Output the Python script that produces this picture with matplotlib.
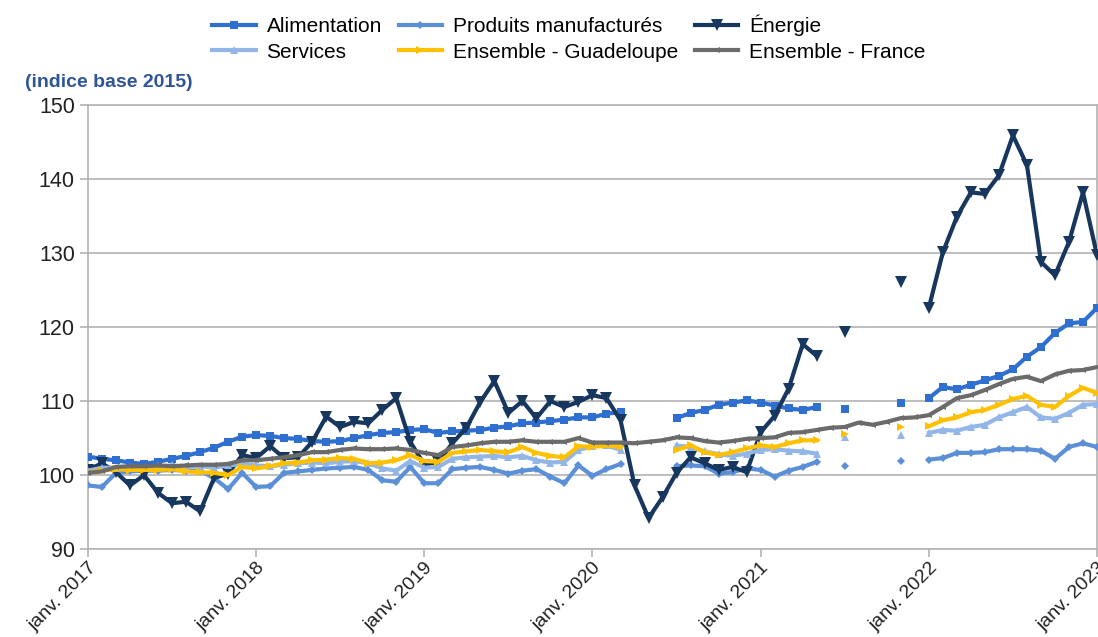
import numpy as np
import matplotlib.pyplot as plt

nan = np.nan

# monthly index values, janv. 2017 -> janv. 2023 (73 months)
alimentation = [102.5, 102.2, 102.0, 101.7, 101.5, 101.8, 102.2, 102.6, 103.1, 103.7, 104.5, 105.2,
                105.4, 105.3, 105.0, 104.9, 104.6, 104.5, 104.6, 105.0, 105.4, 105.7, 105.8, 106.1,
                106.2, 105.7, 105.9, 106.0, 106.1, 106.4, 106.6, 107.0, 107.1, 107.3, 107.5, 107.8,
                107.8, 108.3, 108.5, nan, nan, nan, 107.7, 108.4, 108.8, 109.5, 109.8, 110.1,
                109.8, 109.4, 109.0, 108.8, 109.2, nan, 108.9, nan, nan, nan, 109.7, nan,
                110.4, 111.9, 111.6, 112.2, 112.8, 113.4, 114.3, 116.0, 117.3, 119.2, 120.5, 120.7,
                122.6]
produits = [98.6, 98.4, 100.3, 100.5, 100.6, 100.6, 100.7, 100.6, 100.6, 99.6, 98.1, 100.3,
            98.4, 98.5, 100.3, 100.5, 100.7, 100.9, 101.0, 101.1, 100.7, 99.3, 99.1, 101.1,
            98.9, 98.9, 100.8, 101.0, 101.1, 100.7, 100.2, 100.6, 100.8, 99.8, 98.9, 101.3,
            99.9, 100.8, 101.5, nan, nan, nan, 101.2, 101.3, 101.2, 100.2, 100.4, 100.9,
            100.7, 99.8, 100.6, 101.1, 101.8, nan, 101.2, nan, nan, nan, 101.9, nan,
            102.1, 102.3, 103.0, 103.0, 103.1, 103.5, 103.5, 103.5, 103.3, 102.2, 103.8, 104.3,
            103.8]
energie = [100.7, 101.6, 100.4, 98.6, 100.0, 97.6, 96.2, 96.4, 95.1, 99.6, 100.2, 102.7,
           102.3, 103.9, 102.3, 102.4, 104.5, 107.9, 106.5, 107.2, 107.0, 108.8, 110.4, 104.5,
           101.4, 101.8, 104.3, 106.4, 109.9, 112.7, 108.4, 110.0, 107.7, 110.0, 109.2, 109.9,
           110.8, 110.4, 107.4, 98.6, 94.2, 97.0, 100.3, 102.4, 101.6, 100.7, 101.1, 100.4,
           105.8, 108.0, 111.7, 117.7, 116.1, nan, 119.3, nan, nan, nan, 126.1, nan,
           122.6, 130.1, 134.9, 138.2, 138.0, 140.5, 145.9, 141.9, 128.8, 127.0, 131.5, 138.2,
           129.7]
services = [100.6, 101.0, 101.0, 101.1, 101.0, 101.2, 101.3, 101.1, 101.2, 101.0, 101.3, 101.5,
            101.3, 101.2, 101.4, 101.6, 101.7, 101.6, 101.8, 101.9, 101.6, 100.9, 100.6, 101.9,
            101.0, 101.1, 102.2, 102.4, 102.5, 102.6, 102.4, 102.6, 102.0, 101.7, 101.8, 103.4,
            103.9, 104.0, 103.4, nan, nan, nan, 104.0, 103.8, 103.2, 102.8, 102.6, 102.9,
            103.4, 103.5, 103.3, 103.2, 102.9, nan, 105.1, nan, nan, nan, 105.4, nan,
            105.7, 106.1, 106.0, 106.5, 106.8, 107.8, 108.5, 109.2, 107.8, 107.6, 108.4, 109.5,
            109.6]
guadeloupe = [100.4, 100.6, 100.8, 100.7, 100.7, 100.7, 100.8, 100.5, 100.4, 100.3, 100.0, 101.1,
              100.9, 101.2, 101.6, 101.7, 102.0, 102.1, 102.3, 102.2, 101.6, 101.7, 102.0, 102.7,
              101.9, 101.8, 103.0, 103.2, 103.4, 103.2, 103.1, 103.8, 103.0, 102.6, 102.4, 103.9,
              103.8, 104.0, 103.8, nan, nan, nan, 103.4, 104.0, 103.1, 102.7, 103.1, 103.6,
              104.0, 103.8, 104.3, 104.7, 104.7, nan, 105.5, nan, nan, nan, 106.5, nan,
              106.6, 107.4, 107.8, 108.5, 108.8, 109.5, 110.3, 110.7, 109.5, 109.2, 110.7, 111.8,
              111.1]
france = [100.3, 100.5, 101.1, 101.2, 101.2, 101.3, 101.2, 101.3, 101.4, 101.4, 101.5, 102.0,
          102.0, 102.2, 102.4, 102.7, 103.1, 103.1, 103.4, 103.6, 103.5, 103.5, 103.6, 103.4,
          103.0, 102.7, 103.8, 104.0, 104.3, 104.5, 104.5, 104.7, 104.5, 104.5, 104.5, 105.0,
          104.4, 104.4, 104.4, 104.3, 104.5, 104.7, 105.1, 105.0, 104.6, 104.4, 104.6, 104.9,
          105.0, 105.1, 105.7, 105.8, 106.1, 106.4, 106.5, 107.1, 106.8, 107.2, 107.7, 107.8,
          108.1, 109.2, 110.4, 110.8, 111.5, 112.3, 113.0, 113.3, 112.7, 113.6, 114.1, 114.2,
          114.6]

year_labels = ["janv. 2017", "janv. 2018", "janv. 2019", "janv. 2020",
               "janv. 2021", "janv. 2022", "janv. 2023"]

plt.rcParams['font.family'] = ['Liberation Sans', 'DejaVu Sans']

months = np.arange(len(france))

fig = plt.figure(figsize=(10.98, 6.37), dpi=100)
ax = fig.add_axes([0.0801, 0.138, 0.919, 0.697])

series = [
    ("Alimentation", alimentation, "#2f6fd0", "s", 5.5),
    ("Produits manufacturés", produits, "#5b8fd8", "D", 4),
    ("Énergie", energie, "#17375e", "v", 8),
    ("Services", services, "#93b6e8", "^", 6),
    ("Ensemble - Guadeloupe", guadeloupe, "#ffc000", ">", 6),
    ("Ensemble - France", france, "#6b6b6b", "<", 5),
]
# draw order so that Energie sits on top
order = [1, 3, 4, 5, 0, 2]
handles = {}
for k in order:
    name, vals, col, mk, ms = series[k]
    h, = ax.plot(months, vals, color=col, lw=3, marker=mk, ms=ms,
                 markeredgewidth=0, label=name, zorder=3 + k * 0.1)
    handles[k] = h

ax.set_xlim(0, 72)
ax.set_ylim(90, 150)
ax.set_yticks(np.arange(90, 151, 10))
ax.set_xticks(np.arange(0, 73, 12))
ax.set_xticklabels(year_labels, rotation=45, ha='right', rotation_mode='anchor')
ax.tick_params(axis='both', labelsize=15.5, colors='#b3b3b3', labelcolor='#222222',
               length=6, width=1.2)
ax.tick_params(axis='x', labelsize=14, pad=1)
ax.grid(axis='y', color='#b3b3b3', lw=1.2)
for s in ax.spines.values():
    s.set_color('#b3b3b3')
    s.set_linewidth(1.2)
ax.set_axisbelow(True)

# legend filled row by row like the original (matplotlib fills by column)
leg_order = [0, 3, 1, 4, 2, 5]
fig.legend([handles[k] for k in leg_order], [series[k][0] for k in leg_order],
           loc='center', bbox_to_anchor=(0.518, 0.94), ncol=3, frameon=False,
           fontsize=15, handlelength=2.1, handletextpad=0.5, columnspacing=0.8,
           labelspacing=0.3)

fig.text(0.023, 0.87, "(indice base 2015)", fontsize=14, fontweight='bold',
         color='#2f5597', va='center')

fig.savefig("out.png", dpi=100)
